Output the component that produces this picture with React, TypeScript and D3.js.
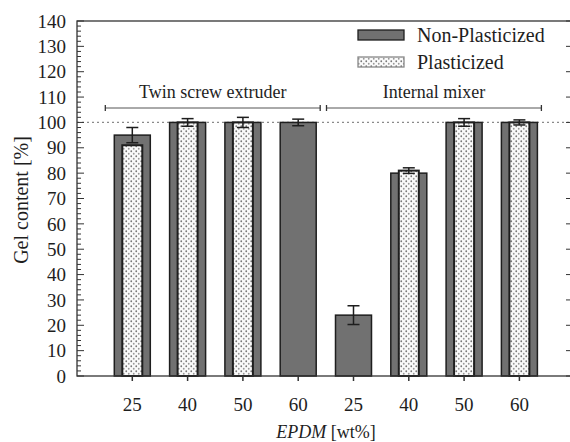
import React from "react";
import * as d3 from "d3";

const categories = ["25", "40", "50", "60", "25", "40", "50", "60"];
const groupNames = ["Twin screw extruder", "Internal mixer"];
const groupRanges = [[0, 3], [4, 7]];
const nonPlasticized = [95, 100, 100, 100, 24, 80, 100, 100];
const nonPlasticizedErr = [3, 0, 0, 1.3, 3.7, 0, 0, 0];
const plasticized: (number | null)[] = [91, 100, 100, null, null, 81, 100, 100];
const plasticizedErr = [0, 1.5, 2, 0, 0, 1.1, 1.5, 1];
const yTicks = d3.range(0, 141, 10);
const yMinorTicks = d3.range(0, 141, 2);
const legendItems = ["Non-Plasticized", "Plasticized"];

const W = 570, H = 442;
const left = 77, right = 573, top = 21, bottom = 376;
const FONT = "Liberation Serif, DejaVu Serif, serif";
const GRAY = "#717171";
const INK = "#1e1e1e";

export default function App() {
  const y = d3.scaleLinear().domain([0, 140]).range([bottom, top]);
  const x = d3.scaleLinear().domain([0, categories.length + 1]).range([left, 574.7]);
  const outerW = 36, innerW = 20;

  return (
    <svg width={W} height={H} style={{ position: "absolute", left: 0, top: 0, background: "#fff" }}>
      <defs>
        <pattern id="dots" width="5" height="5" patternUnits="userSpaceOnUse">
          <rect width="5" height="5" fill="#fafafa" />
          <circle cx="1.25" cy="1.25" r="0.9" fill="#777" />
          <circle cx="3.75" cy="3.75" r="0.9" fill="#999" />
        </pattern>
      </defs>

      <line x1={left} x2={right} y1={y(100)} y2={y(100)} stroke="#8a8a8a" strokeWidth={1.2} strokeDasharray="2,3" />

      {categories.map((c, i) => {
        const cx = x(i + 1);
        const np = nonPlasticized[i];
        const p = plasticized[i];
        return (
          <g key={"b" + i}>
            <rect x={cx - outerW / 2} y={y(np)} width={outerW} height={y(0) - y(np)} fill={GRAY} stroke={INK} strokeWidth={1.5} />
            {p !== null && (
              <rect x={cx - innerW / 2} y={y(p)} width={innerW} height={y(0) - y(p)} fill="url(#dots)" stroke={INK} strokeWidth={2} />
            )}
          </g>
        );
      })}

      {categories.map((c, i) => {
        const cx = x(i + 1);
        const items: [number, number][] = [];
        if (nonPlasticizedErr[i] > 0) items.push([nonPlasticized[i], nonPlasticizedErr[i]]);
        const p = plasticized[i];
        if (p !== null && plasticizedErr[i] > 0) items.push([p, plasticizedErr[i]]);
        return items.map(([v, e], k) => (
          <g key={"e" + i + "-" + k} stroke={INK} strokeWidth={1.5}>
            <line x1={cx} x2={cx} y1={y(v + e)} y2={y(v - e)} />
            <line x1={cx - 6} x2={cx + 6} y1={y(v + e)} y2={y(v + e)} />
            <line x1={cx - 6} x2={cx + 6} y1={y(v - e)} y2={y(v - e)} />
          </g>
        ));
      })}

      <rect x={left} y={top} width={right - left} height={bottom - top} fill="none" stroke="#333" strokeWidth={1.3} />

      {yMinorTicks.map((t) => (
        <line key={"m" + t} x1={left} x2={left + (t % 10 === 0 ? 7 : 4)} y1={y(t)} y2={y(t)} stroke="#333" strokeWidth={1} />
      ))}
      {yTicks.map((t) => (
        <line key={"r" + t} x1={right} x2={right - 7} y1={y(t)} y2={y(t)} stroke="#333" strokeWidth={1} />
      ))}
      {yTicks.map((t) => (
        <text key={"yl" + t} x={66} y={y(t)} dy="0.35em" textAnchor="end" fontFamily={FONT} fontSize={19} fill={INK}>
          {t}
        </text>
      ))}

      {categories.map((c, i) => (
        <g key={"xt" + i}>
          <line x1={x(i + 1)} x2={x(i + 1)} y1={bottom} y2={bottom + 5} stroke="#333" strokeWidth={1.5} />
          <text x={x(i + 1)} y={411} textAnchor="middle" fontFamily={FONT} fontSize={19} fill={INK}>
            {c}
          </text>
        </g>
      ))}

      <text x={326} y={438} textAnchor="middle" fontFamily={FONT} fontSize={18} fill={INK}>
        <tspan fontStyle="italic">EPDM</tspan> [wt%]
      </text>
      <text transform={`translate(28,200) rotate(-90)`} textAnchor="middle" fontFamily={FONT} fontSize={20} fill={INK}>
        Gel content [%]
      </text>

      {groupNames.map((g, gi) => {
        const [a, b] = groupRanges[gi];
        const x1 = x(a + 1) - 27, x2 = x(b + 1) + 22;
        const by = 108;
        return (
          <g key={"g" + gi}>
            <line x1={x1} x2={x2} y1={by} y2={by} stroke="#555" strokeWidth={1} />
            <line x1={x1} x2={x1} y1={by - 3} y2={by + 3} stroke="#333" strokeWidth={1.3} />
            <line x1={x2} x2={x2} y1={by - 3} y2={by + 3} stroke="#333" strokeWidth={1.3} />
            <text x={(x1 + x2) / 2} y={98} textAnchor="middle" fontFamily={FONT} fontSize={18} fill={INK}>
              {g}
            </text>
          </g>
        );
      })}

      {legendItems.map((l, li) => {
        const ly = 30 + li * 27;
        return (
          <g key={"l" + li}>
            <rect x={358} y={ly} width={46} height={10} fill={li === 0 ? GRAY : "url(#dots)"} stroke={li === 0 ? INK : "#888"} strokeWidth={1.3} />
            <text x={417} y={ly + 12} fontFamily={FONT} fontSize={20} fill={INK}>
              {l}
            </text>
          </g>
        );
      })}
    </svg>
  );
}
